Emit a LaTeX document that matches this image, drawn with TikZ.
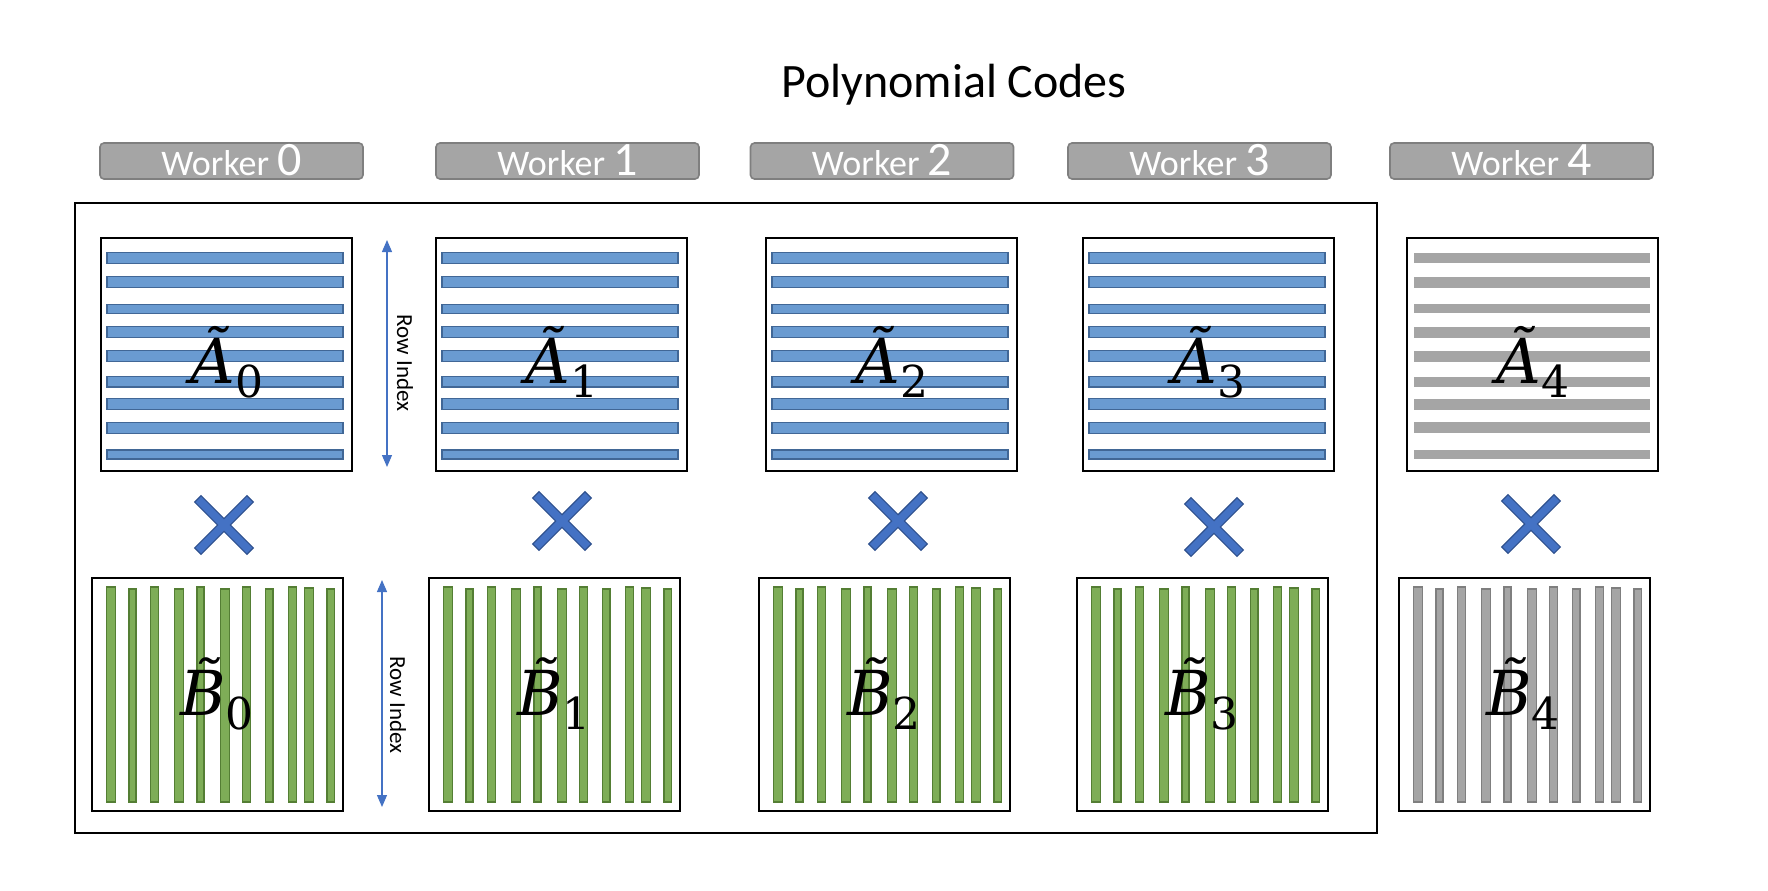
\documentclass[tikz,border=0pt]{standalone}
\usepackage{fontspec}
\setmainfont{Carlito}
\newfontfamily\labelit{DejaVu Serif}[ItalicFont={DejaVu Serif Italic}]
\usetikzlibrary{arrows.meta}
\definecolor{stripeblue}{RGB}{106,155,209}
\definecolor{stripeblueborder}{RGB}{65,103,150}
\definecolor{stripegreen}{RGB}{126,173,87}
\definecolor{stripegreenborder}{RGB}{84,126,52}
\definecolor{grayfill}{RGB}{165,165,165}
\definecolor{grayborder}{RGB}{127,127,127}
\definecolor{crossblue}{RGB}{68,114,196}
\definecolor{crossborder}{RGB}{47,82,143}
\newcommand{\matname}[2]{{\labelit\fontsize{31}{36}\selectfont\itshape #1\char"0303}{\labelit\fontsize{22}{24}\selectfont\raisebox{-7pt}{#2}}}
\begin{document}
\begin{tikzpicture}[x=0.5pt,y=-0.5pt,
  matbox/.style={draw=black,line width=1pt,minimum width=125.5pt,minimum height=116.5pt,inner sep=0pt},
  workerbox/.style={draw=grayborder,fill=grayfill,rounded corners=2pt,line width=0.8pt,minimum width=131.5pt,minimum height=18pt,inner sep=0pt},
  workertext/.style={anchor=base,text=white,font=\fontsize{18}{20}\selectfont},
  matlabel/.style={anchor=base,inner sep=0pt},
  bluestripe/.style={fill=stripeblue,draw=stripeblueborder,line width=0.6pt},
  greenstripe/.style={fill=stripegreen,draw=stripegreenborder,line width=0.6pt},
  graystripeA/.style={fill=grayfill,draw=none},
  graystripeB/.style={fill=grayfill,draw=grayborder,line width=0.6pt},
  rowarrow/.style={draw=crossblue,line width=0.6pt,{Triangle[length=6pt,width=5pt]}-{Triangle[length=6pt,width=5pt]}},
  rowtext/.style={rotate=-90,font=\fontsize{11.5}{12}\selectfont},
  crossshape/.style={fill=crossblue,draw=crossborder,line width=0.6pt}
]
\useasboundingbox (0,0) rectangle (1768,890);

% A stripes: top offset / height
\newcommand{\Astripes}[3]{% left, top, style
  \foreach \o/\h in {14.7/10.7,38.7/11,66.3/9,88.7/11,112.7/11,138.7/10.3,160.7/11,184.3/11,212/9}{
    \path[#3] (#1+6,#2+\o) rectangle (#1+242,#2+\o+\h);
  }}
% B stripes: rel x / width / top offset
\newcommand{\Bstripes}[3]{% left, top, style
  \foreach \r/\w/\t in {14.5/9/9,37/7/11,58.5/8/9,82.5/9/11,105/7/9,128.7/9/11,150.5/8/9,173.5/7.5/11,196.3/8/9,212.3/9/10,235/7.5/11}{
    \path[#3] (#1+\r,#2+\t) rectangle (#1+\r+\w,#2+224);
  }}
\newcommand{\crossmark}[2]{%
  \path[crossshape,shift={(#1,#2)},rotate=45]
    (37,4.5) -- (4.5,4.5) -- (4.5,37) -- (-4.5,37) -- (-4.5,4.5) -- (-37,4.5) --
    (-37,-4.5) -- (-4.5,-4.5) -- (-4.5,-37) -- (4.5,-37) -- (4.5,-4.5) -- (37,-4.5) -- cycle;}

% title
\node[anchor=base,font=\fontsize{24}{27}\selectfont] (title) at (954,97) {Polynomial Codes};

% worker labels
\foreach \n/\cx in {0/231.5,1/567.5,2/882,3/1199.5,4/1521.5}{
  \node[workerbox] (w\n) at (\cx,161) {};
  \node[workertext] (wt\n) at (\cx,175) {Worker {\fontsize{24}{24}\selectfont\n}};
}

% outer frame
\node[draw=black,line width=1pt,minimum width=651pt,minimum height=315pt,inner sep=0pt] (frame) at (726,518) {};

% A boxes
\foreach \n/\l in {0/101,1/436,2/766,3/1083}{
  \node[matbox] (A\n) at (\l+125.5,354.5) {};
  \Astripes{\l}{238}{bluestripe}
  \node[matlabel] (Al\n) at (\l+126,383) {\matname{A}{\n}};
}
\node[matbox] (A4) at (1407+125,354.5) {};
\Astripes{1408}{238}{graystripeA}
\node[matlabel] (Al4) at (1407+126,383) {\matname{A}{4}};

% B boxes
\foreach \n/\l in {0/92,1/429,2/759,3/1077}{
  \node[matbox] (B\n) at (\l+125.5,694.5) {};
  \Bstripes{\l}{578}{greenstripe}
  \node[matlabel] (Bl\n) at (\l+125,715) {\matname{B}{\n}};
}
\node[matbox] (B4) at (1398+126.5,694.5) {};
\Bstripes{1399}{578}{graystripeB}
\node[matlabel] (Bl4) at (1398+125,715) {\matname{B}{4}};

% crosses
\crossmark{224}{525}
\crossmark{562}{521}
\crossmark{898}{521}
\crossmark{1214}{527}
\crossmark{1531}{524}

% row index arrows
\coordinate (ra1) at (387,240);
\coordinate (ra2) at (387,467);
\draw[rowarrow] (ra1) -- (ra2);
\node[rowtext] (rt1) at (405,363) {Row Index};
\coordinate (rb1) at (382,580);
\coordinate (rb2) at (382,807);
\draw[rowarrow] (rb1) -- (rb2);
\node[rowtext] (rt2) at (398,705) {Row Index};
\end{tikzpicture}
\end{document}
